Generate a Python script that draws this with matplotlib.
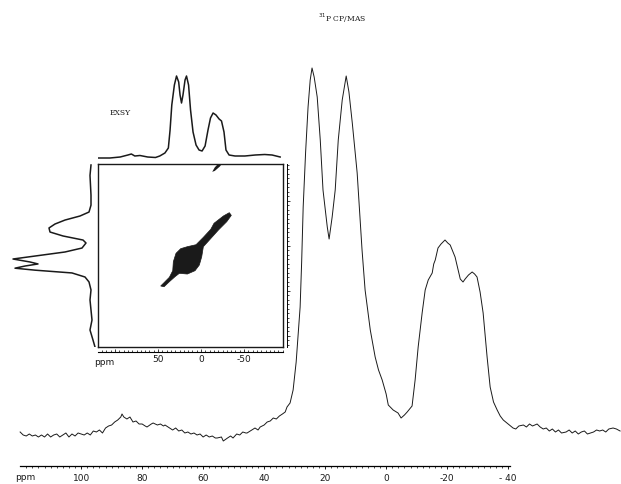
import matplotlib
matplotlib.use("Agg")
import matplotlib.pyplot as plt
from matplotlib.ticker import MultipleLocator, FixedLocator, FixedFormatter

# 1D 31P CP/MAS spectrum: (ppm, arbitrary intensity)
main_points = [
    (120, 0), (119, -3), (118, -4), (117, -2), (116, -4), (115, -3), (114, -5),
    (113, -3), (112, -5), (111, -2), (110, -5), (109, -3), (108, -2), (107, -5),
    (106, -3), (105, -1), (104, -5), (103, -2), (102, -4), (101, -1), (100, -2),
    (99, -3), (98, -1), (97, -3), (96, 1), (95, 0), (94, 2), (93, -1), (92, 4),
    (91, 6), (90, 7), (89, 10), (88, 12), (87, 15), (86.6, 18), (86, 15), (85, 13),
    (84, 15), (83, 10), (82, 11), (81, 8), (80, 8), (79, 6), (78.4, 5), (77, 8),
    (76.4, 9), (75, 7), (74, 8), (73, 6), (72.5, 7), (71, 4), (70, 2), (69, 4),
    (68, 1), (67, 2), (66, -1), (65, 0), (64, -2), (63, -1), (62, -3), (61, -2),
    (60, -5), (59, -3), (58, -5), (57, -4), (56, -6), (55.4, -6), (54, -5),
    (53.4, -9), (52, -6), (51, -4), (50.2, -6), (49, -2), (48, -3), (47, 0),
    (46, -1), (45.6, -1), (44, 2), (43, 4), (42, 2), (41.3, 5), (40, 7), (39, 10),
    (38, 11), (37, 14), (36, 13), (35, 16), (34, 18), (33.1, 20), (32.5, 25),
    (31.5, 29), (30.5, 42), (29.5, 70), (28.8, 100), (28.2, 125), (27.7, 170),
    (27.2, 225), (26.4, 280), (25.6, 325), (24.9, 352), (24.3, 364), (23.6, 355),
    (22.6, 335), (21.6, 292), (20.7, 242), (19.3, 205), (18.7, 193), (17.7, 215),
    (16.7, 242), (15.7, 292), (14.4, 332), (13.1, 356), (12.2, 340), (11.1, 309),
    (9.5, 259), (7.9, 182), (6.9, 142), (5.2, 102), (3.6, 75), (2.5, 62),
    (1.3, 52), (0, 38), (-0.7, 27), (-2.3, 22), (-3.9, 19), (-4.9, 14), (-6, 17),
    (-6.9, 20), (-8.5, 26), (-9.5, 52), (-10.5, 85), (-11.8, 119), (-12.8, 142),
    (-13.8, 152), (-15.1, 159), (-15.6, 168), (-16.1, 172), (-17, 184), (-18, 188),
    (-19.3, 192), (-20.2, 189), (-21, 187), (-22.6, 175), (-24.3, 153),
    (-25.2, 150), (-25.9, 153), (-27, 157), (-28.2, 160), (-29, 158), (-29.8, 155),
    (-30.8, 140), (-31.8, 119), (-33.1, 75), (-34.1, 45), (-35.2, 30), (-36.4, 22),
    (-37.4, 16), (-38.4, 12), (-40, 8), (-41.6, 4), (-42.5, 3), (-43.5, 6),
    (-45, 7), (-46, 5), (-47, 8), (-48, 6), (-49.5, 8), (-50.5, 5), (-51.5, 3),
    (-52.5, 4), (-53.5, 1), (-54.5, 3), (-55.5, 0), (-56.5, 2), (-57.5, -1),
    (-59, 0), (-60, 2), (-61, -1), (-62, 1), (-63, -2), (-64, 0), (-65, 1),
    (-66, -2), (-67, -1), (-68, 0), (-69, 2), (-70, 1), (-71, 2), (-72, 0),
    (-73, 3), (-74.4, 4), (-75.5, 3), (-76.7, 1),
]
main_ppm = [p for p, _ in main_points]
main_int = [v for _, v in main_points]

main_major = [100, 80, 60, 40, 20, 0, -20, -40]
main_labels = ["100", "80", "60", "40", "20", "0", "-20", "- 40"]

# EXSY projections: (ppm, intensity)
top_points = [
    (120, 0), (106, 0), (94, 1), (85, 3), (81, 4), (77, 2), (71, 2.5), (62, 1),
    (53, 0.5), (48, 2), (42, 5), (38, 10), (36, 28), (34, 53), (31, 73),
    (28.5, 82), (26, 76), (24.4, 63), (22.7, 55), (21, 63), (18.6, 78),
    (16.9, 82), (14.5, 73), (12.2, 48), (9.3, 26), (5.8, 13), (2.3, 8),
    (-1.2, 7), (-4.7, 12), (-8.1, 28), (-11, 40), (-14, 45), (-17.4, 43),
    (-21, 39), (-23.8, 37), (-26.7, 26), (-29, 8), (-32.6, 3), (-39.5, 2),
    (-51, 2), (-63, 3), (-74, 3.5), (-82.6, 3), (-92, 1),
]
top_ppm = [p for p, _ in top_points]
top_int = [v for _, v in top_points]

left_points = [
    (-89.6, -1), (-78, 0), (-67, -0.5), (-56, -1), (-45, -1), (-37.3, 1),
    (-32.9, 10), (-28.4, 25), (-24, 35), (-19.6, 41), (-15.1, 40), (-10.7, 27),
    (-6.2, 7), (-2.9, 4), (2.7, 8), (7.1, 25), (11.6, 55), (14.9, 77),
    (18.2, 60), (20.4, 52), (22.7, 65), (25.1, 75), (27.3, 55), (30.4, 18),
    (34.9, 5), (40.4, 1), (49.3, -1), (60.4, 0), (71.6, -1), (82.7, -2),
    (93.8, 0), (105, -3), (112.7, -5),
]
left_ppm = [p for p, _ in left_points]
left_int = [v for _, v in left_points]

# EXSY 2D contour outlines: (F2 ppm, F1 ppm)
diag_outline = [
    (46.9, 44.9), (43.0, 41.2), (36.8, 35.2), (32.9, 27.9), (32.2, 17.9),
    (29.1, 8.6), (23.6, 3.4), (15.9, 1.2), (5.8, -1.0), (-2.7, -9.2),
    (-11.3, -18.1), (-15.1, -24.8), (-19.0, -27.7), (-26.0, -32.9),
    (-32.9, -36.6), (-35.2, -33.6), (-29.9, -26.6), (-20.2, -17.3),
    (-10.5, -7.0), (-2.7, 1.2), (-0.8, 12.3), (2.0, 21.6), (7.0, 27.9),
    (15.9, 31.6), (25.2, 30.8), (30.2, 34.5), (36.8, 40.1), (43.0, 45.7),
]
cross_outline = [(-13, -82), (-16, -83), (-22, -88), (-25, -92), (-21, -92), (-16, -87)]

ink = "#1a1a1a"
W, H = 621, 484
fig = plt.figure(figsize=(W / 100, H / 100), dpi=100)

# main spectrum
ax = fig.add_axes([0, 0, 1, 1])
ax.plot(main_ppm, main_int, color=ink, lw=0.7)
ax.set_xlim(126.6, -77.0)
ax.set_ylim(-52, 432)
for s in ["top", "left", "right"]:
    ax.spines[s].set_visible(False)
ax.spines["bottom"].set_position(("data", -34))
ax.spines["bottom"].set_bounds(120, -40.5)
ax.spines["bottom"].set_linewidth(0.9)
ax.set_yticks([])
ax.xaxis.set_major_locator(FixedLocator(main_major))
ax.xaxis.set_major_formatter(FixedFormatter(main_labels))
ax.xaxis.set_minor_locator(FixedLocator([v for v in range(120, -41, -2) if v % 20]))
ax.tick_params(axis="x", which="major", direction="out", length=2.5, width=0.7,
               pad=3.5, labelsize=6.5, colors=ink)
ax.tick_params(axis="x", which="minor", direction="out", length=1.5, width=0.5)
ax.text(118.4, -46, "ppm", fontsize=6.5, color=ink, ha="center", va="center")
ax.text(14.4, 414, "$^{31}$P CP/MAS", fontsize=5.5, family="DejaVu Serif",
        color=ink, ha="center", va="center")

# EXSY 2D box
f2_lim = (119.8, -95.3)
f1_lim = (112.7, -90.7)
ax2 = fig.add_axes([98 / W, 137 / H, 185 / W, 183 / H])
ax2.fill([p for p, _ in diag_outline], [q for _, q in diag_outline], color=ink, lw=0.5,
         ec=ink)
ax2.fill([p for p, _ in cross_outline], [q for _, q in cross_outline], color=ink, lw=0)
ax2.set_xlim(*f2_lim)
ax2.set_ylim(*f1_lim)
ax2.set_xticks([])
ax2.set_yticks([])
for s in ax2.spines.values():
    s.set_linewidth(1.0)
    s.set_color(ink)

secx = ax2.secondary_xaxis(-5 / 183)
secx.xaxis.set_major_locator(FixedLocator([100, 50, 0, -50]))
secx.xaxis.set_major_formatter(FixedFormatter(["", "50", "0", "-50"]))
secx.xaxis.set_minor_locator(MultipleLocator(5))
secx.tick_params(which="major", direction="in", length=2.5, width=0.6, pad=2,
                 labelsize=6.5, colors=ink)
secx.tick_params(which="minor", direction="in", length=1.5, width=0.5)
secx.spines["bottom"].set_linewidth(0.8)
ax2.text(112, -0.085, "ppm", transform=ax2.get_xaxis_transform(), fontsize=6.5,
         color=ink, ha="center", va="center")

secy = ax2.secondary_yaxis(1 + 4 / 185)
secy.yaxis.set_major_locator(FixedLocator([100, 50, 0, -50]))
secy.yaxis.set_minor_locator(MultipleLocator(5))
secy.yaxis.set_major_formatter(FixedFormatter(["", "", "", ""]))
secy.tick_params(which="major", direction="out", length=2.5, width=0.6, colors=ink)
secy.tick_params(which="minor", direction="out", length=1.5, width=0.5)
secy.spines["right"].set_linewidth(0.7)

# top projection
ax_top = fig.add_axes([98 / W, (H - 162) / H, 185 / W, 102 / H])
ax_top.plot(top_ppm, top_int, color=ink, lw=1.1)
ax_top.set_xlim(*f2_lim)
ax_top.set_ylim(-4, 98)
ax_top.axis("off")

# left projection
ax_left = fig.add_axes([5 / W, 137 / H, 95 / W, 183 / H])
ax_left.plot(left_int, left_ppm, color=ink, lw=1.1)
ax_left.set_xlim(85, -10)
ax_left.set_ylim(*f1_lim)
ax_left.axis("off")

fig.text(120 / W, 1 - 113 / H, "EXSY", fontsize=5.5, family="DejaVu Serif",
         color=ink, ha="center", va="center")

fig.savefig("out.png", dpi=100)
